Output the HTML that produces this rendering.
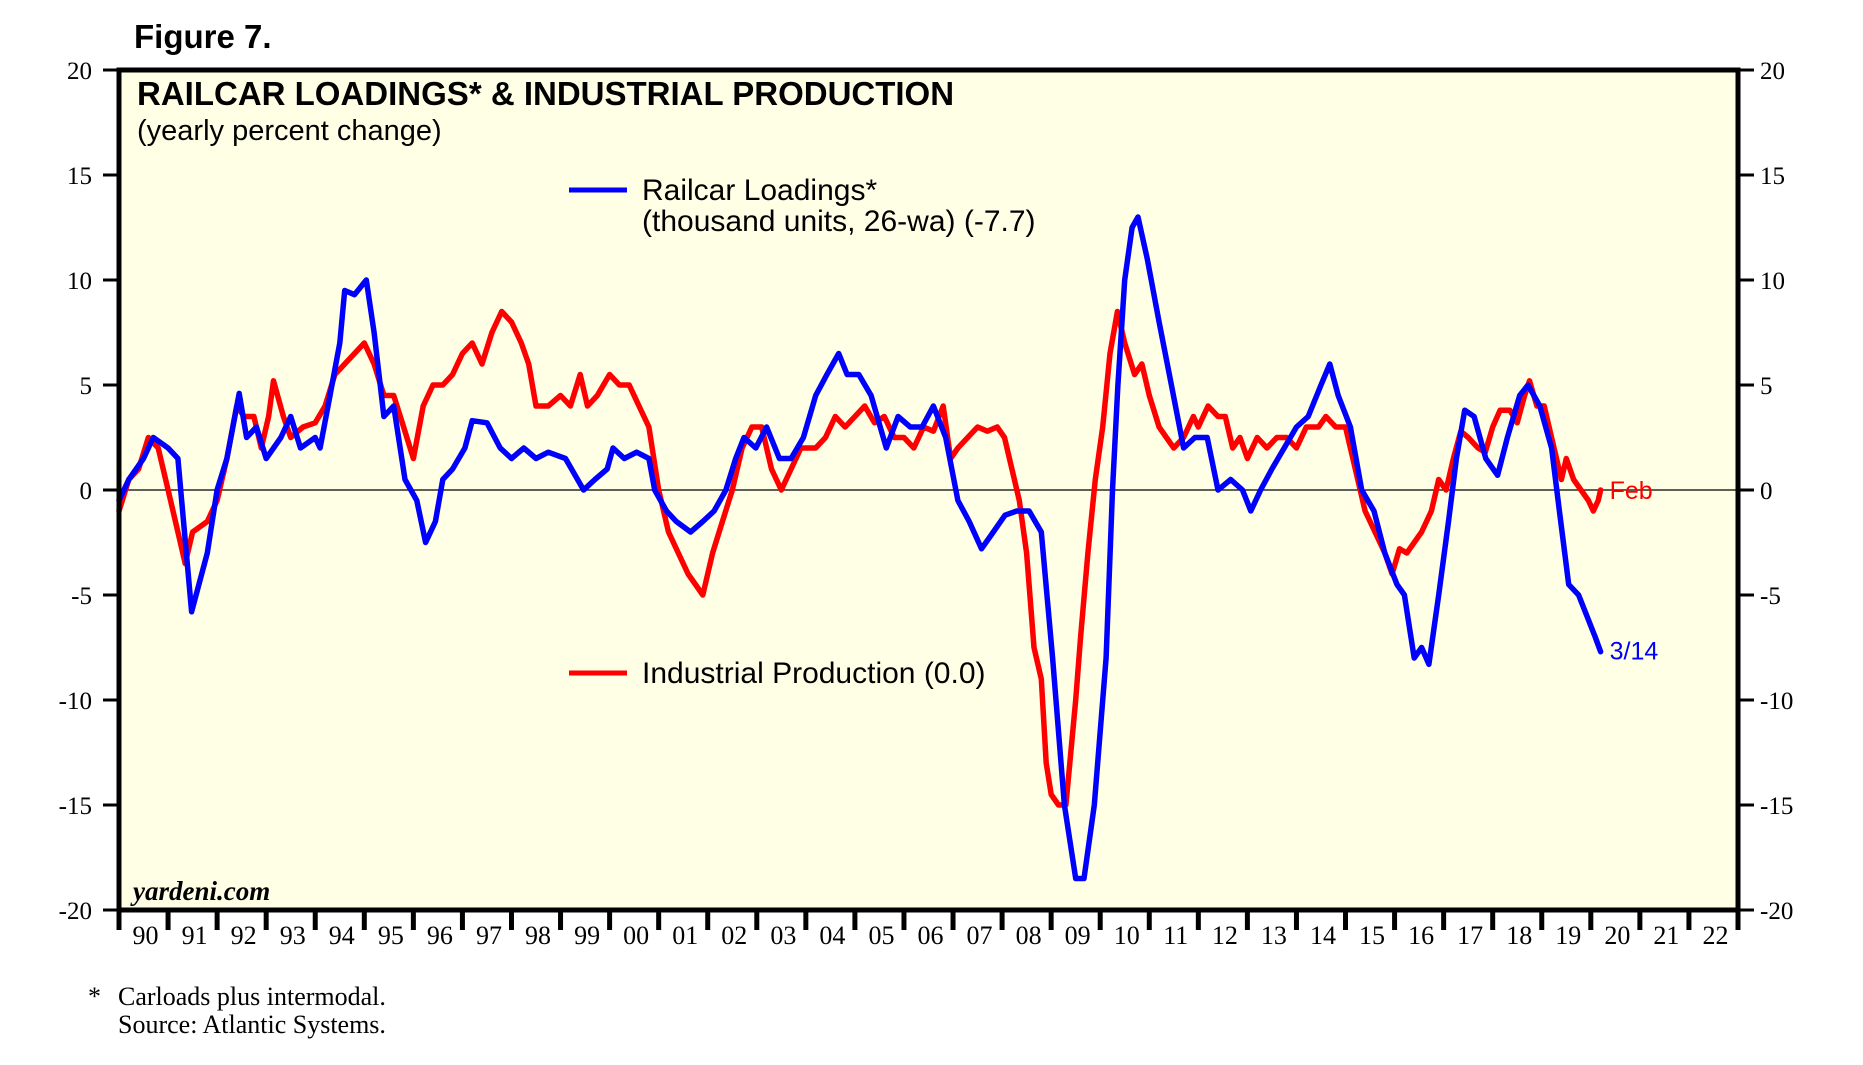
<!DOCTYPE html>
<html><head><meta charset="utf-8"><style>
html,body{margin:0;padding:0;background:#fff;}
svg{display:block;}
.serif{font-family:"Liberation Serif",serif;}
.sans{font-family:"Liberation Sans",sans-serif;}
</style></head><body>
<svg id="chart" width="1863" height="1065" viewBox="0 0 1863 1065" xmlns="http://www.w3.org/2000/svg">
<text class="sans" x="134" y="48" font-size="33" font-weight="bold">Figure 7.</text>
<rect x="119" y="70" width="1619" height="840" fill="#ffffe6"/>
<g id="axes"></g>
<g id="series"></g>
<rect x="119" y="70" width="1619" height="840" fill="none" stroke="#000" stroke-width="5"/>
<text class="sans" x="137" y="105" font-size="33" font-weight="bold">RAILCAR LOADINGS* &amp; INDUSTRIAL PRODUCTION</text>
<text class="sans" x="137" y="140" font-size="29">(yearly percent change)</text>
<line x1="569" y1="190" x2="627" y2="190" stroke="#0000ff" stroke-width="5"/>
<text class="sans" x="642" y="200" font-size="30">Railcar Loadings*</text>
<text class="sans" x="642" y="231" font-size="30">(thousand units, 26-wa) (-7.7)</text>
<line x1="569" y1="673" x2="627" y2="673" stroke="#ff0000" stroke-width="5"/>
<text class="sans" x="642" y="683" font-size="30">Industrial Production (0.0)</text>
<text class="serif" x="133" y="900" font-size="27" font-weight="bold" font-style="italic">yardeni.com</text>
<text class="serif" x="88" y="1005" font-size="26">*</text>
<text class="serif" x="118" y="1005" font-size="26">Carloads plus intermodal.</text>
<text class="serif" x="118" y="1033" font-size="26">Source: Atlantic Systems.</text>
</svg>
<script>
const yTicks=[20,15,10,5,0,-5,-10,-15,-20];
const yearLabels=["90","91","92","93","94","95","96","97","98","99","00","01","02","03","04","05","06","07","08","09","10","11","12","13","14","15","16","17","18","19","20","21","22"];
const railT=[1990.0,1990.2,1990.5,1990.7,1991.0,1991.2,1991.48,1991.8,1992.0,1992.2,1992.45,1992.6,1992.8,1993.0,1993.3,1993.5,1993.7,1994.0,1994.1,1994.3,1994.5,1994.6,1994.8,1995.04,1995.2,1995.4,1995.6,1995.83,1996.07,1996.25,1996.45,1996.6,1996.8,1997.05,1997.2,1997.5,1997.77,1998.0,1998.25,1998.5,1998.75,1999.1,1999.47,1999.7,1999.95,2000.07,2000.3,2000.55,2000.8,2000.92,2001.16,2001.36,2001.65,2001.9,2002.13,2002.37,2002.57,2002.74,2002.98,2003.2,2003.46,2003.7,2003.95,2004.2,2004.43,2004.67,2004.84,2005.08,2005.33,2005.64,2005.88,2006.13,2006.37,2006.6,2006.85,2007.1,2007.33,2007.58,2007.82,2008.06,2008.3,2008.55,2008.8,2009.03,2009.27,2009.5,2009.67,2009.88,2010.12,2010.25,2010.36,2010.5,2010.65,2010.77,2010.96,2011.2,2011.45,2011.7,2011.93,2012.18,2012.4,2012.66,2012.9,2013.07,2013.27,2013.5,2013.75,2014.0,2014.24,2014.5,2014.68,2014.85,2015.1,2015.33,2015.58,2015.8,2016.05,2016.2,2016.4,2016.55,2016.7,2016.9,2017.1,2017.26,2017.43,2017.62,2017.86,2018.1,2018.3,2018.55,2018.72,2018.96,2019.2,2019.36,2019.55,2019.75,2019.92,2020.09,2020.2];
const railV=[-0.5,0.5,1.5,2.5,2,1.5,-5.8,-3,0,1.5,4.6,2.5,3,1.5,2.5,3.5,2,2.5,2,4.5,7,9.5,9.3,10,7.5,3.5,4,0.5,-0.5,-2.5,-1.5,0.5,1,2,3.3,3.2,2,1.5,2,1.5,1.8,1.5,0,0.5,1,2,1.5,1.8,1.5,0,-1,-1.5,-2,-1.5,-1,0,1.5,2.5,2,3,1.5,1.5,2.5,4.5,5.5,6.5,5.5,5.5,4.5,2,3.5,3,3,4,2.5,-0.5,-1.5,-2.8,-2,-1.2,-1,-1,-2,-8,-15,-18.5,-18.5,-15,-8,0,5,10,12.5,13,11,8,5,2,2.5,2.5,0,0.5,0,-1,0,1,2,3,3.5,5,6,4.5,3,0,-1,-3,-4.5,-5,-8,-7.5,-8.3,-5,-1.5,1.5,3.8,3.5,1.5,0.7,2.5,4.5,5,4,2,-1,-4.5,-5,-6,-7,-7.7];
const ipT=[1990.0,1990.2,1990.4,1990.6,1990.8,1991.0,1991.2,1991.35,1991.5,1991.8,1992.0,1992.2,1992.4,1992.55,1992.75,1992.9,1993.05,1993.15,1993.35,1993.5,1993.75,1994.0,1994.2,1994.4,1994.6,1994.8,1995.0,1995.2,1995.4,1995.6,1995.8,1996.0,1996.2,1996.4,1996.6,1996.8,1997.0,1997.2,1997.4,1997.6,1997.8,1998.0,1998.2,1998.35,1998.5,1998.75,1999.0,1999.2,1999.4,1999.55,1999.75,2000.0,2000.2,2000.4,2000.6,2000.8,2001.0,2001.2,2001.4,2001.6,2001.75,2001.9,2002.1,2002.3,2002.5,2002.7,2002.9,2003.1,2003.3,2003.5,2003.7,2003.9,2004.2,2004.4,2004.6,2004.8,2005.0,2005.2,2005.4,2005.6,2005.8,2006.0,2006.2,2006.4,2006.6,2006.8,2006.95,2007.1,2007.3,2007.5,2007.7,2007.9,2008.05,2008.2,2008.35,2008.5,2008.65,2008.8,2008.9,2009.0,2009.15,2009.3,2009.5,2009.6,2009.75,2009.9,2010.05,2010.2,2010.35,2010.5,2010.7,2010.85,2011.0,2011.2,2011.35,2011.5,2011.7,2011.9,2012.0,2012.2,2012.4,2012.55,2012.7,2012.85,2013.0,2013.2,2013.4,2013.6,2013.8,2014.0,2014.2,2014.45,2014.6,2014.8,2015.0,2015.2,2015.4,2015.6,2015.8,2015.95,2016.1,2016.25,2016.4,2016.55,2016.75,2016.9,2017.05,2017.2,2017.35,2017.5,2017.7,2017.85,2018.0,2018.15,2018.35,2018.5,2018.65,2018.75,2018.9,2019.05,2019.15,2019.3,2019.4,2019.5,2019.65,2019.8,2019.95,2020.05,2020.15,2020.2];
const ipV=[-1,0.5,1,2.5,2,0,-2,-3.5,-2,-1.5,-0.5,1.5,4,3.5,3.5,2,3.5,5.2,3.5,2.5,3,3.2,4,5.5,6,6.5,7,6,4.5,4.5,3,1.5,4,5,5,5.5,6.5,7,6,7.5,8.5,8,7,6,4,4,4.5,4,5.5,4,4.5,5.5,5,5,4,3,0,-2,-3,-4,-4.5,-5,-3,-1.5,0,2,3,3,1,0,1,2,2,2.5,3.5,3,3.5,4,3.2,3.5,2.5,2.5,2,3,2.8,4,1.5,2,2.5,3,2.8,3,2.5,1,-0.5,-3,-7.5,-9,-13,-14.5,-15,-15,-10,-7,-3,0.5,3,6.5,8.5,7,5.5,6,4.5,3,2.5,2,2.5,3.5,3,4,3.5,3.5,2,2.5,1.5,2.5,2,2.5,2.5,2,3,3,3.5,3,3,1,-1,-2,-3,-4,-2.8,-3,-2.5,-2,-1,0.5,0,1.5,2.8,2.5,2,1.8,3,3.8,3.8,3.2,4.5,5.2,4,4,3,1.5,0.5,1.5,0.5,0,-0.5,-1,-0.5,0];

const NS="http://www.w3.org/2000/svg";
const L=119,R=1738,T=70,B=910,Y0=1990,Y1=2023;
function xs(t){return L+(t-Y0)/(Y1-Y0)*(R-L);}
function ys(v){return T+(20-v)/40*(B-T);}
function mk(tag,attrs,parent,txt){const e=document.createElementNS(NS,tag);for(const k in attrs)e.setAttribute(k,attrs[k]);if(txt!==undefined)e.textContent=txt;parent.appendChild(e);return e;}
const axes=document.getElementById('axes'),ser=document.getElementById('series');
yTicks.forEach(v=>{
  const y=ys(v);
  const a=mk('line',{x1:L-16,x2:L,y1:y,y2:y,stroke:'#000','stroke-width':3},axes);
  
  
  const b=mk('line',{x1:R,x2:R+16,y1:y,y2:y,stroke:'#000','stroke-width':3},axes);
  
  
  const t1=mk('text',{x:92,y:y+9,'text-anchor':'end','font-size':25,class:'serif'},axes,String(v));
  
  
  const t2=mk('text',{x:1760,y:y+9,'font-size':25,class:'serif'},axes,String(v));
  
  
});
const zl=mk('line',{x1:L,x2:R,y1:ys(0),y2:ys(0),stroke:'#000','stroke-width':1.2},axes);


yearLabels.forEach((lab,i)=>{
  const x=xs(Y0+i);
  const tk=mk('line',{x1:x,x2:x,y1:B,y2:B+20,stroke:'#000','stroke-width':5},axes);
  
  
  const tx=mk('text',{x:xs(Y0+i+0.5)+2,y:944,'text-anchor':'middle','font-size':26,class:'serif'},axes,lab);
  
  
});
const tkEnd=mk('line',{x1:R,x2:R,y1:B,y2:B+20,stroke:'#000','stroke-width':5},axes);


function path(T_,V_,color,name){
  const d=T_.map((t,i)=>(i?'L':'M')+xs(t).toFixed(1)+' '+ys(V_[i]).toFixed(1)).join(' ');
  const p=mk('path',{d:d,fill:'none',stroke:color,'stroke-width':5.5,'stroke-linejoin':'round','stroke-linecap':'round'},ser);
  
  
}
path(ipT,ipV,'#ff0000','industrial-production-line');
path(railT,railV,'#0000ff','railcar-loadings-line');
const e1=mk('text',{x:xs(ipT[ipT.length-1])+9,y:ys(ipV[ipV.length-1])+9,'font-size':25,fill:'#ff0000',class:'sans'},ser,'Feb');


const e2=mk('text',{x:xs(railT[railT.length-1])+9,y:ys(railV[railV.length-1])+8,'font-size':25,fill:'#0000ff',class:'sans'},ser,'3/14');


</script>
</body></html>
